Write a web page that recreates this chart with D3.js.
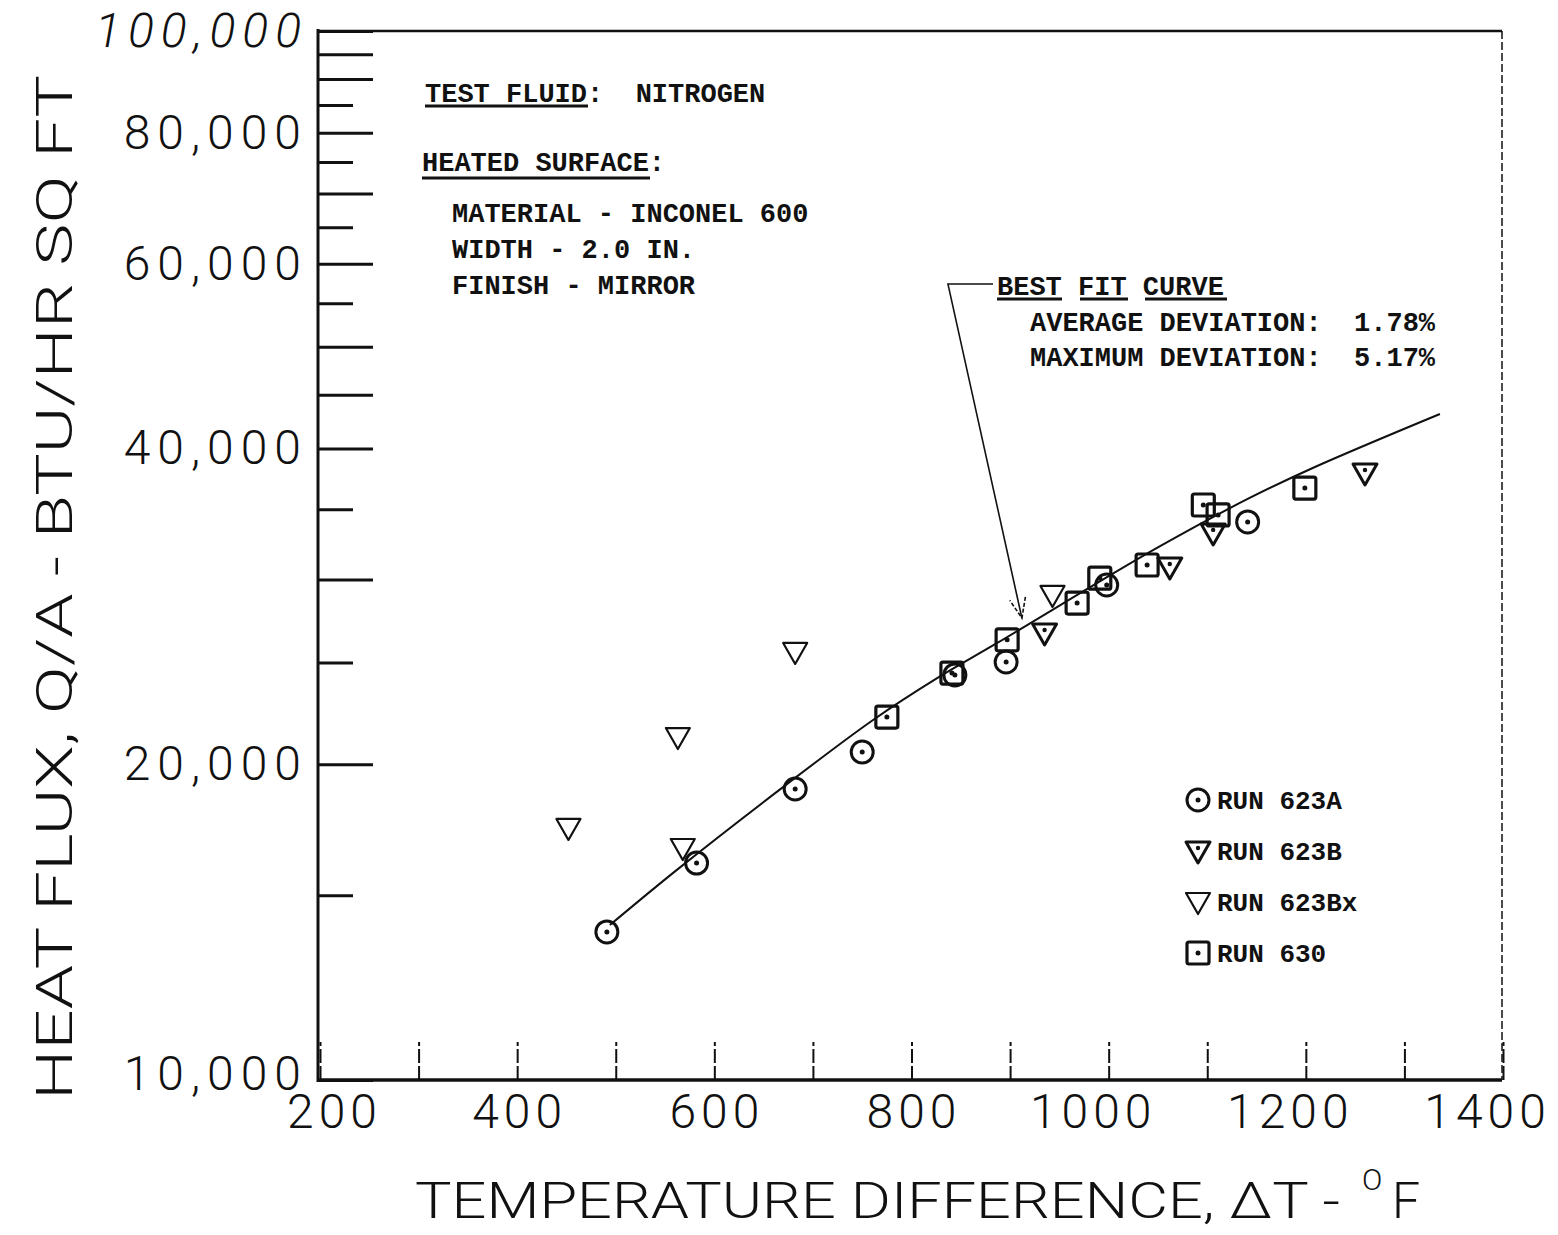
<!DOCTYPE html>
<html><head><meta charset="utf-8">
<script src="https://cdn.jsdelivr.net/npm/d3@7"></script>
<style>body{margin:0;background:#fff}</style>
</head><body>
<svg id="c" width="1558" height="1235" xmlns="http://www.w3.org/2000/svg"></svg>
<script>
// ---------- data ----------
const runNames = ["RUN 623A", "RUN 623B", "RUN 623Bx", "RUN 630"];
const run623A_dT = [491, 582, 682, 750, 844, 896, 998, 1141];
const run623A_q  = [13840, 16100, 18940, 20540, 24330, 25030, 29640, 34040];
const run623B_dT = [935, 1062, 1106, 1260];
const run623B_q  = [26680, 30830, 33230, 37900];
const run623Bx_dT = [452, 568, 563, 682, 943];
const run623Bx_q  = [17390, 16640, 21230, 25590, 29000];
const run630_dT = [775, 841, 897, 968, 991, 1039, 1096, 1111, 1199];
const run630_q  = [22180, 24430, 26280, 28490, 30090, 30970, 35330, 34570, 36670];
const fit_dT = [494, 562, 670, 761, 826, 887, 1049, 1143, 1207, 1336];
const fit_q  = [14050, 15860, 19030, 22040, 24160, 26100, 32150, 35880, 38320, 43140];
const xTickValues = [200, 300, 400, 500, 600, 700, 800, 900, 1000, 1100, 1200, 1300, 1400];
const xLabelValues = [200, 400, 600, 800, 1000, 1200, 1400];
const yTickValues = [10000, 15000, 20000, 25000, 30000, 35000, 40000, 45000, 50000, 55000, 60000,
                     65000, 70000, 75000, 80000, 85000, 90000, 95000, 100000];
const yLabelValues = [10000, 20000, 40000, 60000, 80000, 100000];
const fitPointer = {dT: 912, q: 27560, cornerDT: 837, cornerQ: 57380};

// ---------- setup ----------
const svg = d3.select("#c");
svg.append("rect").attr("width", 1558).attr("height", 1235).attr("fill", "#fff");
const L = 318, R = 1502, T = 31, B = 1080;
const x = d3.scaleLinear().domain([200, 1400]).range([320, 1503]);
const y = d3.scaleLog().domain([10000, 100000]).range([B, T]);
const ink = "#111";
const axisFont = "Roboto, 'Liberation Sans', sans-serif";
const typeFont = "'Liberation Mono', 'DejaVu Sans Mono', monospace";

// ---------- axes ----------
const yAxis = svg.append("g").attr("transform", `translate(${L},0)`)
  .call(d3.axisLeft(y).tickValues(yTickValues)
    .tickFormat(d => yLabelValues.includes(d) ? d3.format(",")(d) : "")
    .tickSizeInner(-52).tickSizeOuter(0).tickPadding(10));
yAxis.select(".domain").remove();
yAxis.selectAll(".tick line")
  .attr("x2", d => (d % 10000 === 0 || d === 45000 || d === 95000) ? 55 : 35)
  .attr("stroke", ink).attr("stroke-width", 3);
yAxis.selectAll(".tick text")
  .attr("fill", ink).attr("font-family", axisFont).attr("font-weight", 300)
  .attr("font-size", 48).attr("letter-spacing", 7)
  .attr("dy", d => d === 10000 ? "0.2em" : "0.32em")
  .attr("font-style", d => d === 100000 ? "italic" : "normal");

const xAxis = svg.append("g").attr("transform", `translate(0,${B})`)
  .call(d3.axisBottom(x).tickValues(xTickValues)
    .tickFormat(d => xLabelValues.includes(d) ? String(d) : "")
    .tickSizeInner(-38).tickSizeOuter(0).tickPadding(14));
xAxis.select(".domain").remove();
xAxis.selectAll(".tick line").attr("stroke", ink).attr("stroke-width", 2)
  .attr("stroke-dasharray", "14,3");
xAxis.selectAll(".tick text")
  .attr("fill", ink).attr("font-family", axisFont).attr("font-weight", 300)
  .attr("font-size", 48).attr("letter-spacing", 5)
  .attr("dx", d => d >= 1000 ? -16 : (d === 200 ? 14 : 2));

// frame
svg.append("line").attr("x1", L).attr("x2", L).attr("y1", T - 2).attr("y2", B + 2)
  .attr("stroke", ink).attr("stroke-width", 3);
svg.append("line").attr("x1", L).attr("x2", R).attr("y1", B).attr("y2", B)
  .attr("stroke", ink).attr("stroke-width", 3.5);
svg.append("line").attr("x1", L).attr("x2", R).attr("y1", T).attr("y2", T)
  .attr("stroke", ink).attr("stroke-width", 2.5);
svg.append("line").attr("x1", R).attr("x2", R).attr("y1", T).attr("y2", B)
  .attr("stroke", ink).attr("stroke-width", 1.5).attr("stroke-dasharray", "8,3");

// axis titles
svg.append("text").attr("transform", "translate(72,1100) rotate(-90)")
  .attr("font-family", axisFont).attr("font-weight", 300).attr("font-size", 50)
  .attr("fill", ink).attr("textLength", 1025).attr("lengthAdjust", "spacingAndGlyphs")
  .text("HEAT FLUX, Q/A - BTU/HR SQ FT");
svg.append("text").attr("x", 415).attr("y", 1218)
  .attr("font-family", axisFont).attr("font-weight", 300).attr("font-size", 50)
  .attr("fill", ink).attr("textLength", 925).attr("lengthAdjust", "spacingAndGlyphs")
  .text("TEMPERATURE DIFFERENCE, ΔT  -");
svg.append("text").attr("x", 1362).attr("y", 1190)
  .attr("font-family", axisFont).attr("font-weight", 300).attr("font-size", 30)
  .attr("fill", ink).text("O");
svg.append("text").attr("x", 1392).attr("y", 1218)
  .attr("font-family", axisFont).attr("font-weight", 300).attr("font-size", 50)
  .attr("fill", ink).text("F");

// ---------- best fit curve ----------
const fitPts = fit_dT.map((d, i) => [d, fit_q[i]]);
svg.append("path").datum(fitPts)
  .attr("d", d3.line().x(d => x(d[0])).y(d => y(d[1])).curve(d3.curveCatmullRom))
  .attr("fill", "none").attr("stroke", ink).attr("stroke-width", 2);

// ---------- markers ----------
function drawMarker(g, type) {
  if (type === "circle") {
    g.append("circle").attr("r", 11).attr("fill", "none").attr("stroke", ink).attr("stroke-width", 3);
    g.append("circle").attr("r", 2.5).attr("fill", ink);
  } else if (type === "triDot" || type === "tri") {
    g.append("path").attr("d", "M-12,-9 L12,-9 L0,12 Z").attr("fill", "none")
      .attr("stroke", ink).attr("stroke-width", type === "triDot" ? 3 : 2.2)
      .attr("stroke-linejoin", "round");
    if (type === "triDot") g.append("circle").attr("cy", -3).attr("r", 2.2).attr("fill", ink);
  } else {
    g.append("rect").attr("x", -11).attr("y", -11).attr("width", 22).attr("height", 22).attr("rx", 2)
      .attr("fill", "none").attr("stroke", ink).attr("stroke-width", 3.2);
    g.append("circle").attr("r", 2.5).attr("fill", ink);
  }
}
const series = [
  {type: "circle", dT: run623A_dT, q: run623A_q},
  {type: "triDot", dT: run623B_dT, q: run623B_q},
  {type: "tri", dT: run623Bx_dT, q: run623Bx_q},
  {type: "square", dT: run630_dT, q: run630_q}
];
series.forEach(s => {
  s.dT.forEach((d, i) => {
    const g = svg.append("g").attr("transform", `translate(${x(d)},${y(s.q[i])})`);
    drawMarker(g, s.type);
  });
});

// ---------- legend ----------
runNames.forEach((name, i) => {
  const cy = 800 + i * 51;
  const g = svg.append("g").attr("transform", `translate(1198,${cy})`);
  drawMarker(g, series[i].type);
  svg.append("text").attr("x", 1217).attr("y", cy).attr("dy", "0.35em")
    .attr("font-family", typeFont).attr("font-size", 26).attr("font-weight", "bold")
    .attr("fill", ink).text(name);
});

// ---------- annotations ----------
function typeText(tx, ty, str) {
  svg.append("text").attr("x", tx).attr("y", ty).attr("dy", "0.35em")
    .attr("font-family", typeFont).attr("font-size", 27).attr("font-weight", "bold")
    .attr("fill", ink).attr("xml:space", "preserve").style("white-space", "pre").text(str);
}
function uline(x1, x2, yy) {
  svg.append("line").attr("x1", x1).attr("x2", x2).attr("y1", yy).attr("y2", yy)
    .attr("stroke", ink).attr("stroke-width", 3);
}
typeText(425, 93, "TEST FLUID:  NITROGEN");
uline(425, 588, 106);
typeText(422, 162, "HEATED SURFACE:");
uline(422, 650, 178);
typeText(452, 213, "MATERIAL - INCONEL 600");
typeText(452, 249, "WIDTH - 2.0 IN.");
typeText(452, 285, "FINISH - MIRROR");

typeText(997, 286, "BEST FIT CURVE");
uline(997, 1062, 299); uline(1080, 1128, 299); uline(1145, 1227, 299);
typeText(1030, 322, "AVERAGE DEVIATION:  1.78%");
typeText(1030, 357, "MAXIMUM DEVIATION:  5.17%");

// leader line with open arrowhead
const cx0 = x(fitPointer.cornerDT), cy0 = y(fitPointer.cornerQ);
const tx0 = x(fitPointer.dT), ty0 = y(fitPointer.q);
svg.append("path").attr("d", `M993,${cy0} L${cx0},${cy0} L${tx0},${ty0}`)
  .attr("fill", "none").attr("stroke", ink).attr("stroke-width", 1.6);
const ang = Math.atan2(ty0 - cy0, tx0 - cx0);
const ah = 20, aw = 8;
const bx = tx0 - ah * Math.cos(ang), by = ty0 - ah * Math.sin(ang);
svg.append("path")
  .attr("d", `M${bx + aw * Math.sin(ang)},${by - aw * Math.cos(ang)} L${tx0},${ty0} L${bx - aw * Math.sin(ang)},${by + aw * Math.cos(ang)}`)
  .attr("fill", "none").attr("stroke", ink).attr("stroke-width", 1.6).attr("stroke-dasharray", "4,2");
</script>
</body></html>
